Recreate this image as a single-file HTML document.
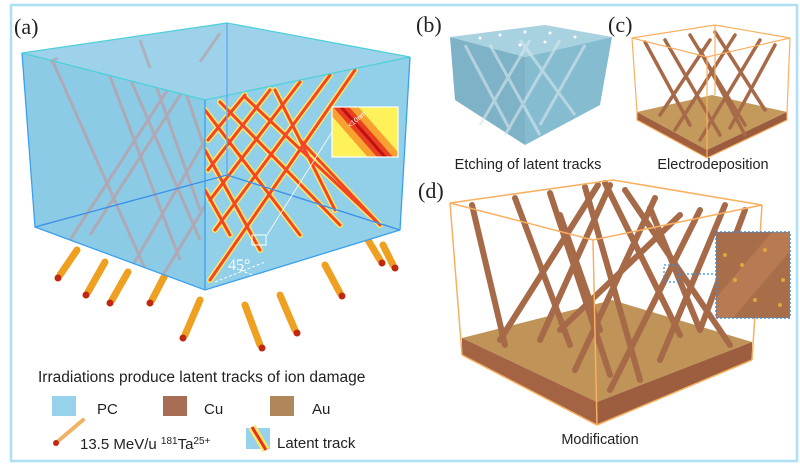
<!DOCTYPE html>
<html><head><meta charset="utf-8"><style>
html,body{margin:0;padding:0;background:#fff;width:800px;height:467px;overflow:hidden}
svg{display:block;font-family:"Liberation Sans","DejaVu Sans",sans-serif}
</style></head><body>
<svg width="800" height="467" viewBox="0 0 800 467" xmlns="http://www.w3.org/2000/svg">
<defs>
<linearGradient id="lt" x1="0" y1="0" x2="1" y2="0" gradientTransform="rotate(-35 0.5 0.5)"><stop offset="0" stop-color="#fff15a"/><stop offset="0.3" stop-color="#f8a030"/><stop offset="0.5" stop-color="#d81818"/><stop offset="0.7" stop-color="#f8a030"/><stop offset="1" stop-color="#fff15a"/></linearGradient>
<clipPath id="lf"><polygon points="22,53 205,100 205,290 35,227"/></clipPath>
<clipPath id="rf"><polygon points="205,100 410,57 400,230 205,290"/></clipPath>
<clipPath id="ins"><rect x="716" y="232" width="74" height="86"/></clipPath>
<clipPath id="inA"><rect x="332" y="107" width="66" height="50"/></clipPath>
</defs>
<rect x="11" y="5" width="786" height="456" fill="none" stroke="#aee0f5" stroke-width="2.5"/>

<!-- Panel a -->
<text x="14" y="34" font-family="Liberation Serif,serif" font-size="22" fill="#222">(a)</text>
<g stroke-linecap="round">
<g stroke="#f0a020" stroke-width="7">
<line x1="60" y1="275" x2="77" y2="250"/><line x1="88" y1="292" x2="105" y2="262"/><line x1="112" y1="300" x2="128" y2="272"/>
<line x1="152" y1="300" x2="165" y2="275"/><line x1="185" y1="335" x2="200" y2="300"/><line x1="260" y1="345" x2="245" y2="305"/>
<line x1="295" y1="330" x2="280" y2="295"/><line x1="340" y1="293" x2="325" y2="265"/><line x1="380" y1="260" x2="368" y2="240"/><line x1="393" y1="265" x2="383" y2="245"/>
</g>
<g fill="#c02810">
<circle cx="58" cy="278" r="3.5"/><circle cx="86" cy="295" r="3.5"/><circle cx="110" cy="303" r="3.5"/><circle cx="150" cy="303" r="3.5"/>
<circle cx="183" cy="338" r="3.5"/><circle cx="262" cy="348" r="3.5"/><circle cx="297" cy="333" r="3.5"/><circle cx="342" cy="296" r="3.5"/><circle cx="382" cy="263" r="3.5"/><circle cx="395" cy="268" r="3.5"/>
</g></g>
<polygon points="22,53 227,23 410,57 205,100" fill="#9dd2ea"/>
<polygon points="22,53 205,100 205,290 35,227" fill="#8ccbe6"/>
<g stroke="#b4a4ac" stroke-width="3" opacity="0.85" clip-path="url(#lf)">
<line x1="50" y1="55" x2="150" y2="280"/><line x1="100" y1="50" x2="180" y2="260"/><line x1="140" y1="40" x2="200" y2="210"/>
<line x1="220" y1="33" x2="90" y2="235"/><line x1="200" y1="40" x2="70" y2="240"/><line x1="260" y1="45" x2="130" y2="270"/>
<line x1="300" y1="50" x2="160" y2="280"/><line x1="175" y1="60" x2="205" y2="150"/><line x1="120" y1="55" x2="200" y2="240"/>
</g>
<g stroke="#b4a4ac" stroke-width="3" opacity="0.7">
<line x1="50" y1="62" x2="58" y2="58"/><line x1="140" y1="40" x2="150" y2="68"/><line x1="220" y1="33" x2="200" y2="62"/>
</g>
<polygon points="205,100 410,57 400,230 205,290" fill="#92cfe8"/>
<g clip-path="url(#rf)" stroke-linecap="round">
<g stroke="#ffe860" stroke-width="6">
<line x1="205" y1="110" x2="300" y2="235"/><line x1="220" y1="102" x2="340" y2="225"/><line x1="245" y1="97" x2="375" y2="220"/>
<line x1="275" y1="90" x2="335" y2="210"/><line x1="205" y1="150" x2="260" y2="250"/><line x1="205" y1="190" x2="230" y2="235"/>
<line x1="355" y1="70" x2="210" y2="280"/><line x1="330" y1="75" x2="215" y2="230"/><line x1="300" y1="82" x2="210" y2="200"/>
<line x1="270" y1="90" x2="208" y2="170"/><line x1="245" y1="95" x2="208" y2="140"/><line x1="300" y1="140" x2="380" y2="225"/>
</g>
<g stroke="#f2452a" stroke-width="3">
<line x1="205" y1="110" x2="300" y2="235"/><line x1="220" y1="102" x2="340" y2="225"/><line x1="245" y1="97" x2="375" y2="220"/>
<line x1="275" y1="90" x2="335" y2="210"/><line x1="205" y1="150" x2="260" y2="250"/><line x1="205" y1="190" x2="230" y2="235"/>
<line x1="355" y1="70" x2="210" y2="280"/><line x1="330" y1="75" x2="215" y2="230"/><line x1="300" y1="82" x2="210" y2="200"/>
<line x1="270" y1="90" x2="208" y2="170"/><line x1="245" y1="95" x2="208" y2="140"/><line x1="300" y1="140" x2="380" y2="225"/>
</g>
</g>
<g fill="none" stroke-width="1.3">
<polyline points="22,53 227,23 410,57" stroke="#4fd0d8"/>
<polyline points="22,53 205,100 410,57" stroke="#4fd0d8"/>
<line x1="227" y1="23" x2="227" y2="175" stroke="#5aa8ee"/>
<polyline points="35,227 227,175 400,230" stroke="#3a8ee8"/>
<polyline points="22,53 35,227 205,290 400,230 410,57" stroke="#3aa0ee"/>
<line x1="205" y1="100" x2="205" y2="290" stroke="#3aa0ee"/>
</g>
<g clip-path="url(#inA)">
<rect x="332" y="107" width="66" height="50" fill="#fff15a"/>
<line x1="335" y1="100" x2="392" y2="165" stroke="#f8a030" stroke-width="26"/>
<line x1="335" y1="100" x2="392" y2="165" stroke="#e84020" stroke-width="12"/>
<line x1="335" y1="100" x2="392" y2="165" stroke="#c01010" stroke-width="3"/>
</g>
<rect x="332" y="107" width="66" height="50" fill="none" stroke="#fff" stroke-width="1.2"/>
<line x1="332" y1="132" x2="267" y2="235" stroke="#fff" stroke-width="0.8"/>
<rect x="252" y="235" width="14" height="10" fill="none" stroke="#fff" stroke-width="1"/>
<text x="350" y="128" font-size="7" fill="#fff" transform="rotate(-40 350 128)">&lt;10nm</text>
<text x="228" y="270" font-family="Liberation Serif,serif" font-size="16" fill="#fff">45°</text>
<line x1="215" y1="282" x2="265" y2="262" stroke="#fff" stroke-dasharray="3,2"/>
<line x1="240" y1="270" x2="270" y2="282" stroke="#fff" stroke-dasharray="3,2"/>

<text x="38" y="382" font-size="15.5" fill="#222">Irradiations produce latent tracks of ion damage</text>
<rect x="52" y="396" width="24" height="20" fill="#98d2ea"/><text x="97" y="414" font-size="15" fill="#222">PC</text>
<rect x="163" y="396" width="24" height="20" fill="#a76e55"/><text x="204" y="414" font-size="15" fill="#222">Cu</text>
<rect x="270" y="396" width="24" height="20" fill="#b0875a"/><text x="312" y="414" font-size="15" fill="#222">Au</text>
<line x1="57" y1="442" x2="83" y2="420" stroke="#f0a040" stroke-width="4" stroke-linecap="round" opacity="0.8"/>
<circle cx="56" cy="443" r="3" fill="#c02810"/>
<text x="80" y="449" font-size="15" fill="#222">13.5 MeV/u <tspan font-size="10" dy="-5">181</tspan><tspan dy="5">Ta</tspan><tspan font-size="10" dy="-5">25+</tspan></text>
<rect x="246" y="428" width="24" height="21" fill="#98d2ea"/>
<line x1="252" y1="427" x2="266" y2="450" stroke="#ffe860" stroke-width="8"/>
<line x1="252" y1="427" x2="266" y2="450" stroke="#e83020" stroke-width="3"/>
<text x="277" y="448" font-size="15" fill="#222">Latent track</text>

<!-- Panel b -->
<text x="416" y="32" font-family="Liberation Serif,serif" font-size="22" fill="#222">(b)</text>
<polygon points="450,37 545,25 612,37 525,57" fill="#a8d2e0"/>
<polygon points="450,37 525,57 525,145 455,100" fill="#7eb2c6"/>
<polygon points="525,57 612,37 600,105 525,145" fill="#86bccf"/>
<g stroke="#d8e8ee" stroke-width="3" opacity="0.6">
<line x1="465" y1="45" x2="510" y2="130"/><line x1="490" y1="45" x2="540" y2="135"/><line x1="530" y1="40" x2="480" y2="125"/><line x1="560" y1="40" x2="505" y2="135"/><line x1="585" y1="45" x2="540" y2="125"/><line x1="520" y1="40" x2="575" y2="115"/>
</g>
<g fill="#fff"><circle cx="480" cy="38" r="1.5"/><circle cx="500" cy="35" r="1.5"/><circle cx="525" cy="32" r="1.5"/><circle cx="550" cy="33" r="1.5"/><circle cx="575" cy="37" r="1.5"/><circle cx="520" cy="45" r="1.5"/><circle cx="545" cy="42" r="1.5"/></g>
<text x="528" y="169" font-size="14.5" fill="#222" text-anchor="middle">Etching of latent tracks</text>

<!-- Panel c -->
<text x="608" y="32" font-family="Liberation Serif,serif" font-size="22" fill="#222">(c)</text>
<polygon points="637,112 712,95 787,112 707,150" fill="#c49a5c"/>
<polygon points="637,112 707,150 707,158 637,120" fill="#a06040"/>
<polygon points="707,150 787,112 787,120 707,158" fill="#9a5c3c"/>
<g stroke="#a66a48" stroke-width="3.5" stroke-linecap="round">
<line x1="645" y1="42" x2="690" y2="125"/><line x1="665" y1="40" x2="720" y2="135"/><line x1="690" y1="35" x2="745" y2="125"/><line x1="715" y1="32" x2="765" y2="110"/>
<line x1="760" y1="40" x2="700" y2="140"/><line x1="735" y1="35" x2="675" y2="130"/><line x1="710" y1="40" x2="660" y2="115"/><line x1="775" y1="45" x2="730" y2="128"/><line x1="700" y1="50" x2="745" y2="135"/>
</g>
<g fill="none" stroke="#f8b060" stroke-width="1.2">
<polygon points="632,38 715,25 790,38 707,57"/><line x1="632" y1="38" x2="637" y2="112"/><line x1="707" y1="57" x2="707" y2="158"/><line x1="790" y1="38" x2="787" y2="112"/><line x1="715" y1="25" x2="715" y2="95"/>
<polyline points="637,112 637,120 707,158 787,120 787,112"/>
</g>
<text x="713" y="169" font-size="14.5" fill="#222" text-anchor="middle">Electrodeposition</text>

<!-- Panel d -->
<text x="418" y="198" font-family="Liberation Serif,serif" font-size="22" fill="#222">(d)</text>
<polygon points="462,338 612,300 752,342 597,402" fill="#c09458"/>
<polygon points="462,338 597,402 597,425 462,355" fill="#a46444"/>
<polygon points="597,402 752,342 752,360 597,425" fill="#9c5e3e"/>
<g stroke="#a66a48" stroke-width="6" stroke-linecap="round">
<line x1="472" y1="205" x2="505" y2="345"/><line x1="515" y1="198" x2="570" y2="345"/><line x1="550" y1="193" x2="610" y2="375"/><line x1="585" y1="187" x2="640" y2="380"/>
<line x1="605" y1="183" x2="680" y2="335"/><line x1="625" y1="190" x2="730" y2="345"/><line x1="650" y1="208" x2="700" y2="330"/>
<line x1="610" y1="185" x2="540" y2="340"/><line x1="598" y1="185" x2="500" y2="340"/><line x1="655" y1="198" x2="575" y2="370"/><line x1="700" y1="210" x2="610" y2="390"/><line x1="725" y1="205" x2="660" y2="360"/><line x1="745" y1="210" x2="700" y2="330"/>
<line x1="560" y1="215" x2="600" y2="330"/><line x1="680" y1="215" x2="560" y2="330"/>
</g>
<g fill="none" stroke="#f8b060" stroke-width="1.5">
<polygon points="450,203 613,180 762,205 593,240"/><line x1="450" y1="203" x2="462" y2="355"/><line x1="593" y1="240" x2="597" y2="425"/><line x1="762" y1="205" x2="752" y2="360"/>
<polyline points="462,355 597,425 752,360"/>
</g>
<rect x="716" y="232" width="74" height="86" fill="#a86e4a"/>
<g clip-path="url(#ins)">
<line x1="716" y1="318" x2="795" y2="225" stroke="#b87a52" stroke-width="26"/>
</g>
<rect x="716" y="232" width="74" height="86" fill="none" stroke="#3a8ee0" stroke-width="1.5" stroke-dasharray="2,2"/>
<g fill="#e0a840"><circle cx="725" cy="255" r="2"/><circle cx="742" cy="265" r="2"/><circle cx="735" cy="280" r="2"/><circle cx="755" cy="300" r="2"/><circle cx="780" cy="305" r="2"/><circle cx="765" cy="250" r="2"/><circle cx="783" cy="280" r="2"/></g>
<rect x="664" y="265" width="15" height="17" fill="none" stroke="#3a8ee0" stroke-width="1.2" stroke-dasharray="2,2"/>
<line x1="679" y1="274" x2="716" y2="274" stroke="#3a8ee0" stroke-width="1.2" stroke-dasharray="2,2"/>
<text x="600" y="444" font-size="14.5" fill="#222" text-anchor="middle">Modification</text>
</svg>
</body></html>
